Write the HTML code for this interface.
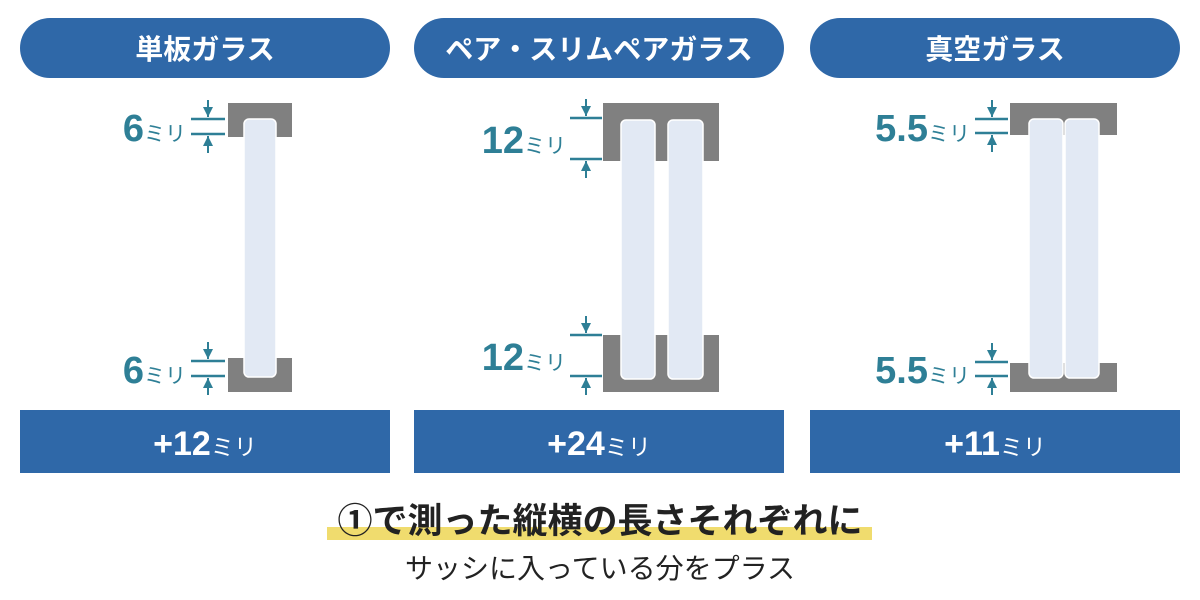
<!DOCTYPE html>
<html><head><meta charset="utf-8"><style>
body{margin:0;background:#fff;}
svg{display:block;font-family:"Liberation Sans","Noto Sans CJK JP",sans-serif;}
</style></head><body>
<svg width="1200" height="600" viewBox="0 0 1200 600" xmlns="http://www.w3.org/2000/svg">
<defs>
<marker id="a" viewBox="0 0 10 10" refX="10" refY="5" markerWidth="5" markerHeight="5" orient="auto"><path d="M0,0L10,5L0,10z" fill="#2e7f96"/></marker>
</defs>
<g fill="#2f68a8">
<rect x="20" y="18" width="370" height="60" rx="30"/>
<rect x="414" y="18" width="370" height="60" rx="30"/>
<rect x="810" y="18" width="370" height="60" rx="30"/>
<rect x="20" y="410" width="370" height="63"/>
<rect x="414" y="410" width="370" height="63"/>
<rect x="810" y="410" width="370" height="63"/>
</g>
<g fill="#fff" font-weight="bold" font-size="28" text-anchor="middle">
<text x="205" y="59">単板ガラス</text>
<text x="599" y="59">ペア・スリムペアガラス</text>
<text x="995" y="59">真空ガラス</text>
<text x="205" y="455" font-size="34">+12<tspan font-size="23" font-weight="normal">ミリ</tspan></text>
<text x="599" y="455" font-size="34">+24<tspan font-size="23" font-weight="normal">ミリ</tspan></text>
<text x="995" y="455" font-size="34">+11<tspan font-size="23" font-weight="normal">ミリ</tspan></text>
</g>
<g fill="#808080">
<rect x="228" y="103" width="64" height="34"/>
<rect x="228" y="358" width="64" height="34"/>
<rect x="603" y="103" width="116" height="58"/>
<rect x="603" y="335" width="116" height="57"/>
<rect x="1010" y="103" width="107" height="32"/>
<rect x="1010" y="363" width="107" height="29"/>
</g>
<g fill="#e2e9f4" stroke="#fff" stroke-width="1.5">
<rect x="244" y="119" width="32" height="258" rx="5"/>
<rect x="621" y="120" width="34" height="259" rx="5"/>
<rect x="668" y="120" width="35" height="259" rx="5"/>
<rect x="1029" y="119" width="34" height="259" rx="5"/>
<rect x="1065" y="119" width="34" height="259" rx="5"/>
</g>
<g stroke="#2e7f96" stroke-width="2.5" fill="none">
<path d="M191 119H225M191 134H225"/>
<path d="M191 361H225M191 376H225"/>
<path d="M570 118H602M570 159H602"/>
<path d="M570 335H602M570 376H602"/>
<path d="M975 119H1008M975 133H1008"/>
<path d="M975 362H1008M975 376H1008"/>
</g>
<g stroke="#2e7f96" stroke-width="2" marker-end="url(#a)">
<path d="M208 100V117"/><path d="M208 153V136"/>
<path d="M208 342V359"/><path d="M208 395V378"/>
<path d="M586 99V116"/><path d="M586 178V161"/>
<path d="M586 316V333"/><path d="M586 395V378"/>
<path d="M992 100V117"/><path d="M992 152V135"/>
<path d="M992 343V360"/><path d="M992 395V378"/>
</g>
<g fill="#2e7f96" font-weight="bold" font-size="38" text-anchor="end">
<text x="186" y="141">6<tspan font-size="21" font-weight="normal">ミリ</tspan></text>
<text x="186" y="383">6<tspan font-size="21" font-weight="normal">ミリ</tspan></text>
<text x="566" y="153">12<tspan font-size="21" font-weight="normal">ミリ</tspan></text>
<text x="566" y="370">12<tspan font-size="21" font-weight="normal">ミリ</tspan></text>
<text x="970" y="141">5.5<tspan font-size="21" font-weight="normal">ミリ</tspan></text>
<text x="970" y="383">5.5<tspan font-size="21" font-weight="normal">ミリ</tspan></text>
</g>
<rect x="327" y="527" width="545" height="13" fill="#f0dc6e"/>
<text x="600" y="533" text-anchor="middle" font-size="35" font-weight="bold" fill="#222">①で測った縦横の長さそれぞれに</text>
<text x="600" y="578" text-anchor="middle" font-size="28" fill="#222">サッシに入っている分をプラス</text>
</svg>
</body></html>
